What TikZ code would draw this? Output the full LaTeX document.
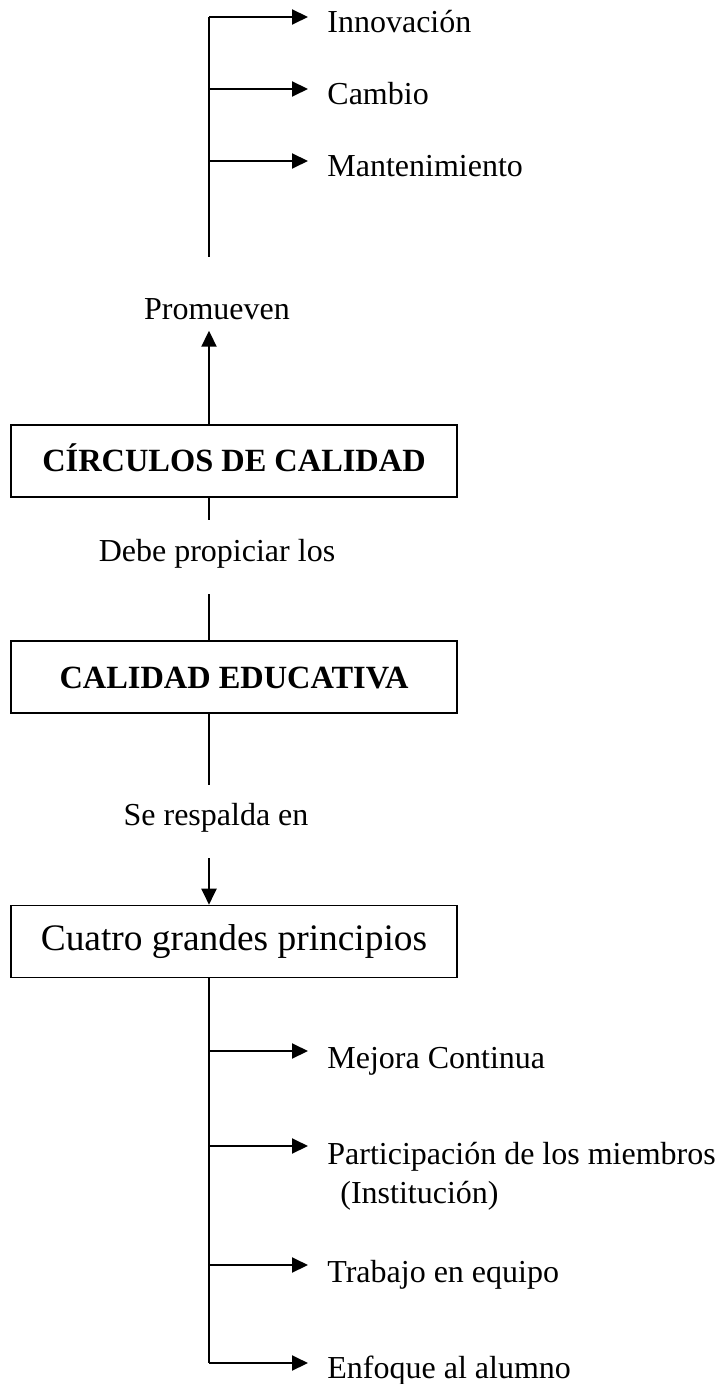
\documentclass[tikz,border=0pt]{standalone}
\usepackage{fontspec}
\setmainfont{Liberation Serif}
\usepackage{tikz}
\usetikzlibrary{positioning,arrows.meta}
\tikzset{
  cajanodo/.style = {draw, line width=0.8pt, minimum width=223pt,
                     minimum height=36pt, inner sep=0pt},
  titnodo/.style  = {cajanodo, font=\fontsize{16.2}{19}\selectfont\bfseries,
                     text height=11pt, text depth=0pt},
  grannodo/.style = {cajanodo, font=\fontsize{18.7}{22}\selectfont},
  enlace/.style   = {font=\fontsize{16}{19}\selectfont, inner xsep=0pt, inner ysep=5pt},
  hoja/.style     = {font=\fontsize{16}{19}\selectfont, anchor=base west,
                     inner ysep=0pt, inner xsep=9.5pt},
  linea/.style    = {line width=1pt},
  flecha/.style   = {linea, -{Triangle[length=8pt, width=7.5pt]}}
}

\begin{document}
\begin{tikzpicture}[x=0.5pt, y=-0.5pt]
  \useasboundingbox (0,0) rectangle (720,1384);
  % Upper branch
  \coordinate (r0) at (209,17);
  \coordinate (r1) at (209,89);
  \coordinate (r2) at (209,161);
  \coordinate (rz) at (209,257);
  \node[hoja] (inno) at (308,33)  {Innovación};
  \node[hoja] (camb) at (308,105) {Cambio};
  \node[hoja] (mant) at (308,177) {Mantenimiento};
  \draw[linea] (r0) -- (rz);
  \draw[flecha] (r0) -- (r0 -| inno.west);
  \draw[flecha] (r1) -- (r1 -| camb.west);
  \draw[flecha] (r2) -- (r2 -| mant.west);
  % Boxes
  \node[titnodo]  (circ) at (234,461)   {CÍRCULOS DE CALIDAD};
  \node[titnodo]  (cali) at (234,677)   {CALIDAD EDUCATIVA};
  \node[grannodo] (cuat) at (234,941.5) {Cuatro grandes principios};
  % Link labels
  \node[enlace, anchor=base] (prom) at (217,320) {Promueven};
  \node[enlace, anchor=base] (debe) at (217,561) {Debe propiciar los};
  \node[enlace, anchor=base] (resp) at (216,825) {Se respalda en};
  \coordinate (d1) at (209,520);
  \coordinate (d2) at (209,594);
  \coordinate (e1) at (209,785);
  \coordinate (e2) at (209,858);
  % Links
  \draw[flecha] (circ.north -| rz) -- (prom.south -| rz);
  \draw[linea]  (circ.south -| d1) -- (d1);
  \draw[linea]  (d2) -- (cali.north -| d2);
  \draw[linea]  (cali.south -| e1) -- (e1);
  \draw[flecha] (e2) -- (cuat.north -| e2);
  % Lower branch
  \coordinate (p0) at (209,1051);
  \coordinate (p1) at (209,1146);
  \coordinate (p2) at (209,1265);
  \coordinate (p3) at (209,1363);
  \node[hoja] (mejo) at (308,1068) {Mejora Continua};
  \node[hoja] (part) at (308,1164) {Participación de los miembros};
  \node[hoja] (inst) at (321,1203) {(Institución)};
  \node[hoja] (trab) at (308,1282) {Trabajo en equipo};
  \node[hoja] (enfo) at (308,1378) {Enfoque al alumno};
  \draw[linea] (cuat.south -| p3) -- (p3);
  \draw[flecha] (p0) -- (p0 -| mejo.west);
  \draw[flecha] (p1) -- (p1 -| part.west);
  \draw[flecha] (p2) -- (p2 -| trab.west);
  \draw[flecha] (p3) -- (p3 -| enfo.west);
\end{tikzpicture}
\end{document}
